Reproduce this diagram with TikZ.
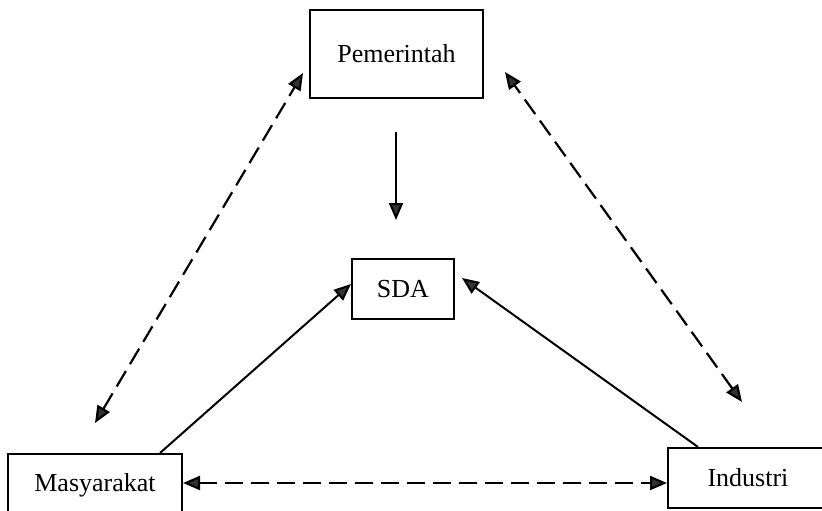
\documentclass[tikz,border=0pt]{standalone}
\usepackage{fontspec}
\setmainfont{Liberation Serif}
\usetikzlibrary{arrows.meta}
\begin{document}
\begin{tikzpicture}[x=1pt,y=-1pt,
  box/.style={draw,line width=2pt,rectangle,inner sep=0pt,font=\fontsize{26}{30}\selectfont},
  tip/.style={-{Triangle[length=17pt,width=14pt,fill=black!80]}},
  biarr/.style={{Triangle[length=17pt,width=14pt,fill=black!80]}-{Triangle[length=17pt,width=14pt,fill=black!80]}},
  conn/.style={line width=2pt},
  dashconn/.style={line width=2.2pt,dash pattern=on 18pt off 8pt}]
\useasboundingbox (0,0) rectangle (822,511);
\clip (0,0) rectangle (822,511);
\fill[white] (0,0) rectangle (822,511);
% nodes
\node[box,minimum width=173pt,minimum height=88pt] (P) at (396.5,54) {Pemerintah};
\node[box,minimum width=102pt,minimum height=60pt] (S) at (403,289) {SDA};
\node[box,minimum width=174pt,minimum height=62pt] (M) at (95,485) {Masyarakat};
\node[box,minimum width=190pt,minimum height=60pt] (I) at (763,478) {Industri\hspace*{30pt}};
% free ends
\coordinate (p1) at (396,132);
\coordinate (s1) at (396,220);
\coordinate (s2) at (462,278);
\coordinate (h) at (0,483);
\coordinate (pl) at (303,73);
\coordinate (ml) at (95,423);
\coordinate (pr) at (505,72);
\coordinate (ir) at (742,402);
% connectors
\draw[conn,tip] (p1) -- (s1);
\draw[conn,tip] ([xshift=65pt]M.north) -- ([yshift=5pt]S.west);
\draw[conn,tip] ([xshift=-65pt]I.north) -- (s2);
\draw[dashconn,biarr] (M.east |- h) -- (I.west |- h);
\draw[dashconn,biarr] (ml) -- (pl);
\draw[dashconn,biarr] (ir) -- (pr);
\end{tikzpicture}
\end{document}
